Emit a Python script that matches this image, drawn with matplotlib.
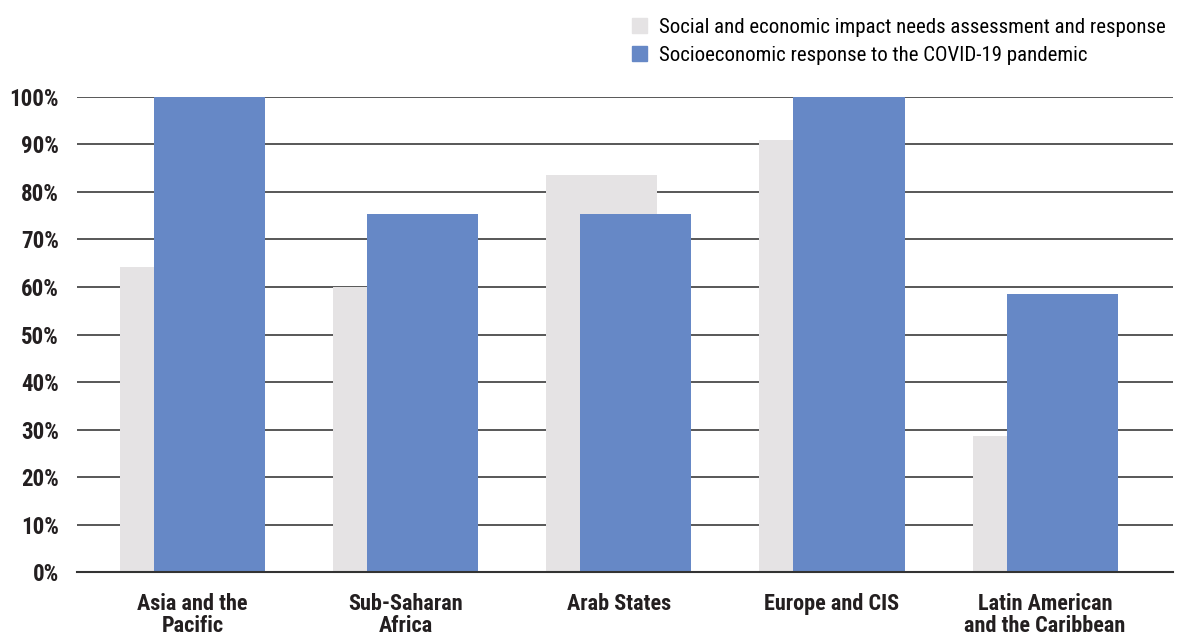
import numpy as np
import matplotlib.pyplot as plt
from matplotlib import font_manager
from matplotlib.patches import Patch

# pick a narrow font if one is around
installed = {f.name for f in font_manager.fontManager.ttflist}
narrow = None
for cand in ['Liberation Sans Narrow', 'DejaVu Sans Condensed', 'Roboto Condensed', 'Open Sans Condensed']:
    if cand in installed:
        narrow = cand
        break
stretch = 'normal'
if narrow is None:
    narrow = 'DejaVu Sans'
    stretch = 'condensed'
plt.rcParams['font.family'] = [narrow, 'DejaVu Sans']
plt.rcParams['font.stretch'] = stretch

regions = ["Asia and the\nPacific", "Sub-Saharan\nAfrica", "Arab States",
           "Europe and CIS", "Latin American\nand the Caribbean"]
impact = [64.3, 60.0, 83.6, 90.9, 28.6]
covid = [100, 75.4, 75.4, 100, 58.5]
series_names = ["Social and economic impact needs assessment and response",
                "Socioeconomic response to the COVID-19 pandemic"]

grey = "#e5e3e4"
blue = "#6688c6"

fig = plt.figure(figsize=(11.84, 6.38), dpi=100)
ax = fig.add_axes([0.065, 0.1034, 0.9257, 0.7446])

x = np.arange(len(regions))
w = 0.521
ax.bar(x - 0.08, impact, width=w, color=grey, zorder=2)
ax.bar(x + 0.08, covid, width=w, color=blue, zorder=3)

ax.set_xlim(-0.542, 4.60)
ax.set_ylim(0, 100)
ax.set_yticks(np.arange(0, 101, 10))
ax.set_yticklabels([f"{v}%" for v in range(0, 101, 10)], fontsize=16.5, fontweight='bold', color='#231f20')
ax.set_xticks(x)
ax.set_xticklabels(regions, fontsize=16, fontweight='bold', color='#231f20', linespacing=1.0)
ax.tick_params(axis='both', length=0)
ax.tick_params(axis='y', pad=13)
ax.tick_params(axis='x', pad=15)
for s in ax.spines.values():
    s.set_visible(False)
ax.yaxis.grid(True, color='#4a4a4a', linewidth=1.3, zorder=1)
ax.set_axisbelow(True)
ax.axhline(0, color='#333333', linewidth=1.5, zorder=4, clip_on=False)

handles = [Patch(color=grey), Patch(color=blue)]
fig.legend(handles, series_names, loc='upper right', bbox_to_anchor=(0.995, 0.992),
           frameon=False, fontsize=15, handlelength=0.75, handleheight=0.75,
           handletextpad=0.55, labelspacing=0.45, borderaxespad=0.2)

fig.savefig("out.png", dpi=100)
